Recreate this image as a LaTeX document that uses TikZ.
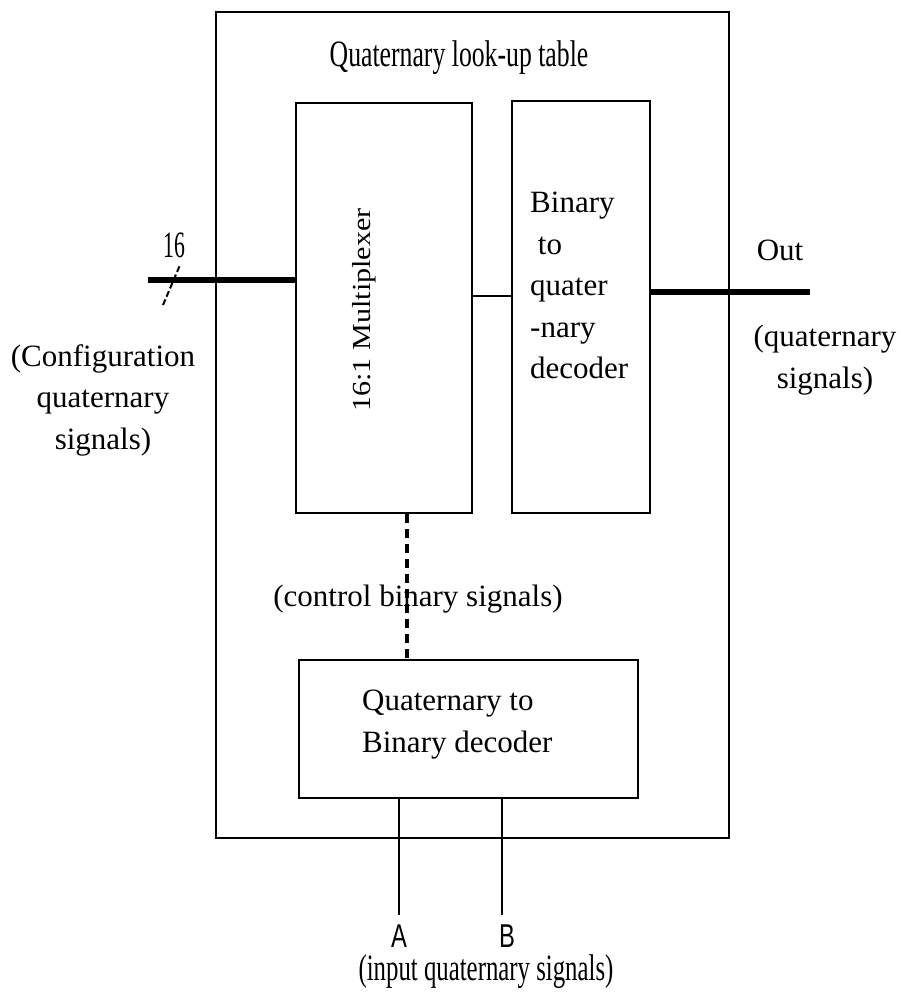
\documentclass[tikz,border=0pt]{standalone}
\usepackage{fontspec}
\setmainfont{Liberation Serif}
\newfontfamily\sansA{Liberation Sans}
\begin{document}
\begin{tikzpicture}[x=1pt,y=-1pt,
  every node/.style={font=\fontsize{31}{41.5}\selectfont, inner sep=0pt},
  block/.style={draw, line width=2.4pt, rectangle},
  outerbox/.style={draw, line width=2pt, rectangle},
  lbl/.style={align=center},
  busline/.style={line width=5.5pt},
  wire/.style={line width=2pt},
  ctlline/.style={line width=4pt, dash pattern=on 9pt off 6pt},
  slashmark/.style={line width=2pt, dash pattern=on 6pt off 3pt}]
\useasboundingbox (0,0) rectangle (900,993);
% blocks
\node[outerbox, minimum width=513pt, minimum height=826pt] (lut) at (472.5,425) {};
\node[block, minimum width=176pt, minimum height=410pt] (mux) at (384,308) {};
\node[block, minimum width=138pt, minimum height=412pt] (dec) at (581,307) {};
\node[block, minimum width=339pt, minimum height=138pt] (qbd) at (468.5,729) {};
% texts
\node (title) at (459,58) {\scalebox{0.83}[1.2]{Quaternary look-up table}};
\node[rotate=90] (muxt) at (364,310) {\fontsize{26}{30}\selectfont\scalebox{1.16}[1]{16:1 Multiplexer}};
\node[align=left, anchor=north west] (dect) at (530,192) {Binary\\\ to\\quater\\-nary\\decoder};
\node[align=left, anchor=north west] (qbdt) at (362,690) {Quaternary to\\Binary decoder};
\node[lbl] (cfg) at (103,400) {(Configuration\\quaternary\\signals)};
\node (n16) at (174,245) {\scalebox{0.7}[1.2]{16}};
\node (outt) at (780,250) {Out};
\node[lbl] (outs) at (825,360) {(quaternary\\signals)};
\node (ctlt) at (418,599) {(control binary signals)};
\node (at) at (399,936) {\sansA\fontsize{33}{36}\selectfont\scalebox{0.72}[1]{A}};
\node (bt) at (507,936) {\sansA\fontsize{33}{36}\selectfont\scalebox{0.72}[1]{B}};
\node (inp) at (486,972) {\scalebox{0.8}[1.2]{(input quaternary signals)}};
% connectors
\coordinate (cin) at (148,280);
\coordinate (cmid) at (0,296);
\coordinate (cout) at (810,292);
\coordinate (cctl) at (407,0);
\coordinate (ca) at (399,915);
\coordinate (cb) at (502,915);
\draw[busline] (cin) -- (cin -| mux.west);
\draw[slashmark] (163,305) -- (180,265);
\draw[wire] (mux.east |- cmid) -- (dec.west |- cmid);
\draw[busline] (dec.east |- cout) -- (cout);
\draw[ctlline] (mux.south -| cctl) -- (qbd.north -| cctl);
\draw[wire] (qbd.south -| ca) -- (ca);
\draw[wire] (qbd.south -| cb) -- (cb);
\end{tikzpicture}
\end{document}
